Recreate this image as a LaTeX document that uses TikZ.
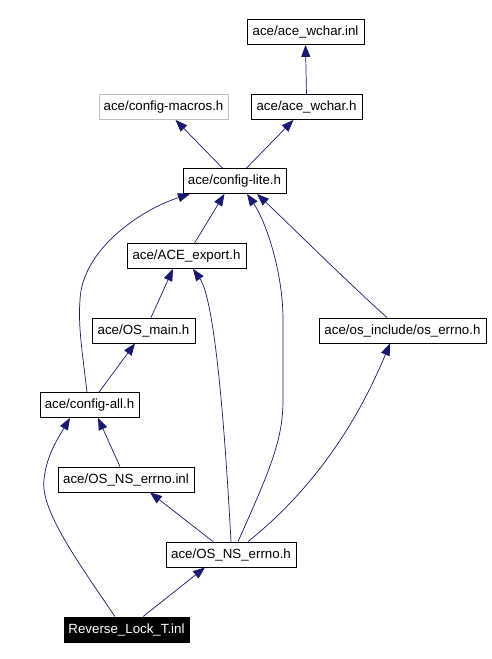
\documentclass[tikz,border=0pt]{standalone}
\usepackage{fontspec}
\setmainfont{Liberation Sans}
\usetikzlibrary{arrows.meta}
\definecolor{edgeblue}{HTML}{191970}
\definecolor{boxgray}{HTML}{BFBFBF}
\tikzset{
	file/.style={draw=black,line width=0.8pt,inner sep=0pt,font=\fontsize{13.3}{15}\selectfont,minimum height=25pt},
	incl/.style={edgeblue,line width=0.7pt,-{Triangle[length=12pt,width=9pt]}}
}
\begin{document}
\begin{tikzpicture}[x=1pt,y=-1pt]
	\useasboundingbox[fill=white] (0,0) rectangle (491,659);
	\node[file,minimum width=117pt] (wcharinl) at (305.5,32) {ace/ace\_wchar.inl};
	\node[file,draw=boxgray,minimum width=129pt] (macros) at (163.5,107) {ace/config-macros.h};
	\node[file,minimum width=111pt] (wcharh) at (306.5,107) {ace/ace\_wchar.h};
	\node[file,minimum width=103pt] (lite) at (234.5,181) {ace/config-lite.h};
	\node[file,minimum width=119pt] (export) at (186.5,256) {ace/ACE\_export.h};
	\node[file,minimum width=103pt] (osmain) at (143.5,330.5) {ace/OS\_main.h};
	\node[file,minimum width=167pt] (oserrno) at (402.5,330.5) {ace/os\_include/os\_errno.h};
	\node[file,minimum width=99pt] (cfgall) at (89.5,405) {ace/config-all.h};
	\node[file,minimum width=136pt] (nsinl) at (126,479.5) {ace/OS\_NS\_errno.inl};
	\node[file,minimum width=130pt] (nsh) at (231,554.5) {ace/OS\_NS\_errno.h};
	\node[file,fill=black,text=white,minimum width=125pt] (rev) at (126.5,629.5) {Reverse\_Lock\_T.inl};
	% includes
	\draw[incl] (wcharh.north) -- (wcharinl.south);
	\draw[incl] ([xshift=-12pt]lite.north) -- ([xshift=12pt]macros.south);
	\draw[incl] ([xshift=12pt]lite.north) -- ([xshift=-13pt]wcharh.south);
	\draw[incl] ([xshift=8pt]export.north) -- ([xshift=-10pt]lite.south);
	\draw[incl] ([xshift=7.5pt]osmain.north) -- ([xshift=-13.5pt]export.south);
	\draw[incl] ([xshift=9.5pt]cfgall.north) -- ([xshift=-8.5pt]osmain.south);
	\draw[incl] ([xshift=-2.5pt]cfgall.north) .. controls (82,350) and (78,325) .. (80,300) .. controls (82,250) and (140,210) .. ([xshift=-44.5pt]lite.south);
	\draw[incl] (nsh.north) .. controls (225,430) and (215,300) .. ([xshift=6.5pt]export.south);
	\draw[incl] ([xshift=7pt]nsh.north) .. controls (270,470) and (283,440) .. (283,400) -- (283,320) .. controls (283,270) and (265,220) .. ([xshift=12.5pt]lite.south);
	\draw[incl] ([xshift=-15.5pt]oserrno.north) .. controls (340,275) and (290,225) .. ([xshift=22.5pt]lite.south);
	\draw[incl] ([xshift=17pt]nsh.north) .. controls (300,500) and (350,440) .. ([xshift=-12.5pt]oserrno.south);
	\draw[incl] ([xshift=-18pt]nsh.north) -- ([xshift=24pt]nsinl.south);
	\draw[incl] ([xshift=-6pt]nsinl.north) -- ([xshift=8.5pt]cfgall.south);
	\draw[incl] ([xshift=-11.5pt]rev.north) .. controls (80,565) and (40,510) .. (44,480) .. controls (46,455) and (60,435) .. ([xshift=-19.5pt]cfgall.south);
	\draw[incl] ([xshift=16.5pt]rev.north) -- ([xshift=-26pt]nsh.south);
\end{tikzpicture}
\end{document}
